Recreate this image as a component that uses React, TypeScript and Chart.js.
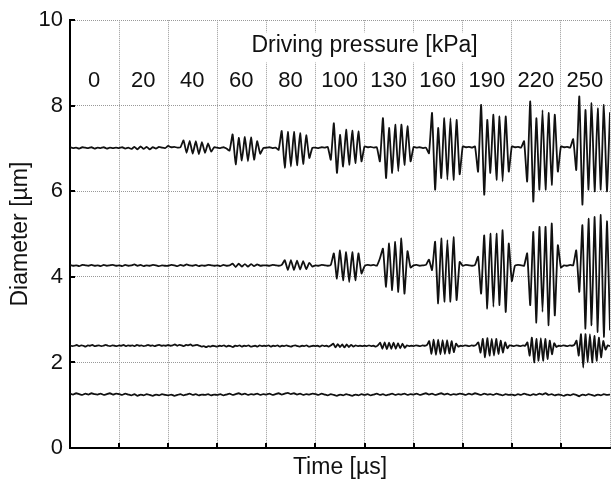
import { useEffect, useRef } from 'react';
import { Chart, registerables } from 'chart.js';

Chart.register(...registerables);

const FONT = '"Liberation Sans", Arial, Helvetica, sans-serif';

// ---- texts / labels ----
const xAxisTitle = 'Time [µs]';
const yAxisTitle = 'Diameter [µm]';
const pressureTitle = 'Driving pressure [kPa]';
const pressureLabels = ['0', '20', '40', '60', '80', '100', '130', '160', '190', '220', '250'];

// ---- axis ranges ----
const timeWindows = 11; // one window per driving pressure
const yMin = 0;
const yMax = 10;
const yStep = 2;

// ---- traces (diameter in µm), sampled uniformly in each pressure window ----
const samplesA = 16;
const traceA = [
  7.03, 7.01, 7.02, 7.00, 7.03, 7.02, 7.01, 7.03, 7.00, 7.02, 7.01, 7.03, 7.00, 7.02, 7.01, 7.02,
  7.01, 7.03, 7.00, 7.02, 6.99, 7.04, 6.98, 7.05, 6.99, 7.04, 6.98, 7.03, 7.00, 7.04, 7.02, 7.01,
  7.06, 7.03, 7.04, 7.02, 7.03, 7.19, 6.90, 7.18, 6.88, 7.17, 6.87, 7.15, 6.90, 7.12, 6.93, 7.03,
  7.02, 7.01, 7.03, 7.00, 6.95, 7.33, 6.63, 7.25, 6.72, 7.27, 6.70, 7.26, 6.74, 7.17, 6.88, 7.01,
  7.02, 7.03, 7.01, 7.02, 6.97, 7.41, 6.55, 7.39, 6.58, 7.39, 6.61, 7.36, 6.64, 7.31, 6.78, 7.02,
  7.02, 7.01, 7.03, 7.02, 7.04, 6.74, 7.59, 6.43, 7.32, 6.58, 7.44, 6.62, 7.42, 6.66, 7.40, 6.70,
  7.05, 7.03, 7.04, 7.02, 7.03, 6.70, 7.71, 6.31, 7.48, 6.43, 7.56, 6.47, 7.56, 6.62, 7.52, 6.70,
  7.04, 7.02, 7.03, 7.01, 7.02, 6.89, 7.83, 6.04, 7.48, 6.31, 7.71, 6.27, 7.71, 6.27, 7.67, 6.40,
  7.05, 7.03, 7.04, 7.02, 7.05, 6.46, 8.02, 5.92, 7.67, 6.43, 7.79, 6.27, 7.75, 6.23, 7.75, 6.46,
  7.05, 7.03, 7.04, 7.02, 7.17, 6.23, 8.10, 5.76, 7.71, 6.04, 7.90, 6.04, 7.83, 6.15, 7.79, 6.46,
  7.05, 7.03, 7.04, 7.02, 7.22, 6.50, 8.22, 5.69, 7.90, 6.04, 8.06, 6.00, 7.94, 6.04, 8.02, 6.00,
  7.85,
];

const samplesB = 16;
const traceB = [
  4.28, 4.26, 4.27, 4.25, 4.28, 4.27, 4.26, 4.28, 4.26, 4.27, 4.25, 4.28, 4.26, 4.27, 4.28, 4.26,
  4.27, 4.25, 4.28, 4.26, 4.27, 4.29, 4.26, 4.28, 4.25, 4.27, 4.26, 4.28, 4.27, 4.25, 4.27, 4.26,
  4.26, 4.28, 4.27, 4.25, 4.28, 4.26, 4.29, 4.27, 4.26, 4.28, 4.25, 4.27, 4.26, 4.28, 4.27, 4.26,
  4.27, 4.25, 4.28, 4.26, 4.27, 4.31, 4.23, 4.31, 4.24, 4.30, 4.24, 4.30, 4.25, 4.29, 4.26, 4.27,
  4.27, 4.26, 4.28, 4.27, 4.26, 4.28, 4.39, 4.16, 4.39, 4.16, 4.38, 4.17, 4.37, 4.18, 4.33, 4.24,
  4.27, 4.26, 4.28, 4.27, 4.26, 4.28, 4.55, 3.96, 4.62, 3.92, 4.58, 3.88, 4.58, 3.92, 4.55, 4.08,
  4.25, 4.28, 4.27, 4.28, 4.26, 4.43, 4.66, 3.77, 4.78, 3.69, 4.82, 3.65, 4.90, 3.61, 4.60, 4.22,
  4.27, 4.28, 4.26, 4.27, 4.28, 4.40, 4.16, 4.82, 3.38, 4.90, 3.42, 4.86, 3.42, 4.93, 3.46, 4.35,
  4.26, 4.28, 4.27, 4.26, 4.28, 4.47, 3.61, 4.97, 3.26, 5.01, 3.30, 5.01, 3.34, 5.09, 3.18, 4.78,
  3.90, 4.26, 4.28, 4.27, 4.26, 4.55, 3.34, 5.05, 2.93, 5.17, 3.18, 5.17, 2.87, 5.25, 3.10, 4.74,
  4.22, 4.27, 4.26, 4.28, 4.27, 4.62, 3.65, 5.21, 2.79, 5.36, 2.87, 5.40, 2.71, 5.45, 2.60, 5.30,
  2.75,
];

const samplesC = 22;
const traceC = [
  2.40, 2.38, 2.39, 2.41, 2.38, 2.40, 2.39, 2.37, 2.40, 2.39, 2.41, 2.38, 2.39, 2.40, 2.38, 2.39, 2.41, 2.39, 2.38, 2.40, 2.39, 2.38,
  2.40, 2.39, 2.41, 2.38, 2.40, 2.39, 2.40, 2.38, 2.41, 2.39, 2.40, 2.38, 2.39, 2.41, 2.39, 2.40, 2.38, 2.40, 2.41, 2.39, 2.40, 2.39,
  2.41, 2.39, 2.40, 2.42, 2.39, 2.41, 2.40, 2.38, 2.41, 2.40, 2.42, 2.39, 2.40, 2.41, 2.39, 2.37, 2.38, 2.36, 2.38, 2.37, 2.39, 2.38,
  2.37, 2.39, 2.38, 2.40, 2.37, 2.39, 2.38, 2.36, 2.39, 2.38, 2.40, 2.37, 2.39, 2.38, 2.40, 2.37, 2.38, 2.39, 2.37, 2.40, 2.38, 2.39,
  2.38, 2.40, 2.37, 2.39, 2.38, 2.40, 2.37, 2.39, 2.38, 2.40, 2.38, 2.37, 2.39, 2.40, 2.38, 2.37, 2.39, 2.38, 2.40, 2.37, 2.38, 2.39,
  2.38, 2.39, 2.37, 2.40, 2.38, 2.39, 2.37, 2.40, 2.44, 2.35, 2.43, 2.36, 2.42, 2.35, 2.42, 2.36, 2.41, 2.37, 2.40, 2.38, 2.39, 2.38,
  2.39, 2.38, 2.40, 2.38, 2.39, 2.37, 2.40, 2.46, 2.32, 2.47, 2.31, 2.46, 2.32, 2.46, 2.32, 2.45, 2.33, 2.44, 2.34, 2.40, 2.38, 2.39,
  2.38, 2.40, 2.39, 2.38, 2.40, 2.39, 2.41, 2.50, 2.20, 2.53, 2.18, 2.53, 2.19, 2.52, 2.20, 2.52, 2.21, 2.50, 2.24, 2.44, 2.37, 2.39,
  2.38, 2.40, 2.39, 2.38, 2.40, 2.39, 2.41, 2.47, 2.23, 2.55, 2.12, 2.57, 2.16, 2.55, 2.16, 2.55, 2.20, 2.51, 2.23, 2.47, 2.33, 2.40,
  2.39, 2.38, 2.40, 2.39, 2.38, 2.40, 2.39, 2.47, 2.16, 2.58, 2.00, 2.55, 2.04, 2.57, 2.04, 2.55, 2.08, 2.51, 2.19, 2.45, 2.36, 2.39,
  2.38, 2.40, 2.39, 2.38, 2.40, 2.39, 2.41, 2.51, 2.16, 2.66, 1.88, 2.66, 2.00, 2.66, 2.00, 2.62, 2.04, 2.58, 2.12, 2.50, 2.30, 2.40,
  2.38,
];

const samplesD = 16;
const traceD = [
  1.27, 1.25, 1.28, 1.26, 1.24, 1.27, 1.25, 1.28, 1.26, 1.25, 1.27, 1.24, 1.26, 1.28, 1.25, 1.27,
  1.26, 1.24, 1.27, 1.25, 1.23, 1.26, 1.22, 1.25, 1.23, 1.26, 1.24, 1.22, 1.25, 1.23, 1.26, 1.24,
  1.23, 1.25, 1.22, 1.24, 1.26, 1.23, 1.25, 1.27, 1.24, 1.26, 1.23, 1.25, 1.24, 1.26, 1.23, 1.25,
  1.24, 1.26, 1.23, 1.25, 1.27, 1.24, 1.26, 1.28, 1.25, 1.27, 1.24, 1.26, 1.25, 1.27, 1.24, 1.26,
  1.25, 1.27, 1.24, 1.26, 1.28, 1.25, 1.27, 1.29, 1.26, 1.28, 1.25, 1.27, 1.24, 1.26, 1.25, 1.27,
  1.26, 1.24, 1.27, 1.25, 1.23, 1.26, 1.24, 1.22, 1.25, 1.23, 1.26, 1.24, 1.22, 1.25, 1.23, 1.26,
  1.24, 1.26, 1.23, 1.25, 1.27, 1.24, 1.26, 1.23, 1.25, 1.27, 1.24, 1.26, 1.25, 1.27, 1.24, 1.26,
  1.25, 1.27, 1.24, 1.26, 1.28, 1.25, 1.27, 1.24, 1.26, 1.28, 1.25, 1.27, 1.24, 1.26, 1.25, 1.27,
  1.26, 1.24, 1.27, 1.25, 1.28, 1.26, 1.24, 1.27, 1.25, 1.26, 1.24, 1.27, 1.25, 1.23, 1.26, 1.24,
  1.25, 1.23, 1.26, 1.24, 1.27, 1.25, 1.23, 1.26, 1.24, 1.27, 1.25, 1.28, 1.24, 1.26, 1.23, 1.25,
  1.24, 1.22, 1.25, 1.23, 1.26, 1.24, 1.21, 1.25, 1.23, 1.26, 1.24, 1.22, 1.25, 1.23, 1.26, 1.24,
  1.25,
];

const toPoints = (values: number[], perWindow: number) =>
  values.map((v, i) => ({ x: i / perWindow, y: v }));

const overlayPlugin = {
  id: 'overlay',
  beforeDatasetsDraw(chart: any) {
    const { ctx, scales } = chart;
    const x = scales.x;
    const y = scales.y;
    ctx.save();
    // title of the pressure row, on a white box
    ctx.font = `23px ${FONT}`;
    ctx.textAlign = 'center';
    ctx.textBaseline = 'middle';
    const tx = x.getPixelForValue(timeWindows / 2 + 0.5);
    const ty = y.getPixelForValue(9.41);
    const tw = ctx.measureText(pressureTitle).width;
    ctx.fillStyle = '#ffffff';
    ctx.fillRect(tx - tw / 2 - 4, ty - 13, tw + 8, 30);
    ctx.fillStyle = '#111111';
    ctx.fillText(pressureTitle, tx, ty);
    // pressure values, one per window
    ctx.font = `22px ${FONT}`;
    pressureLabels.forEach((label, i) => {
      ctx.fillText(label, x.getPixelForValue(i + 0.49), y.getPixelForValue(8.59));
    });
    ctx.restore();
  },
  afterDatasetsDraw(chart: any) {
    const { ctx, scales, chartArea } = chart;
    const x = scales.x;
    const y = scales.y;
    ctx.save();
    ctx.strokeStyle = '#000000';
    ctx.lineWidth = 2;
    ctx.beginPath();
    x.ticks.forEach((t: any) => {
      const px = Math.round(x.getPixelForValue(t.value));
      if (px <= chartArea.left + 1 || px >= chartArea.right - 1) return;
      ctx.moveTo(px, chartArea.bottom);
      ctx.lineTo(px, chartArea.bottom - 5);
    });
    y.ticks.forEach((t: any) => {
      const py = Math.round(y.getPixelForValue(t.value));
      ctx.moveTo(chartArea.left, py);
      ctx.lineTo(chartArea.left + 5, py);
    });
    ctx.stroke();
    ctx.restore();
  },
};

export default function App() {
  const canvasRef = useRef<HTMLCanvasElement | null>(null);

  useEffect(() => {
    document.body.style.margin = '0';
    const canvas = canvasRef.current;
    if (!canvas) return;
    const lineStyle = {
      borderColor: '#111111',
      borderWidth: 1.8,
      pointRadius: 0,
      tension: 0.15,
      fill: false,
    };
    const chart = new Chart(canvas, {
      type: 'line',
      data: {
        datasets: [
          { label: 'A', data: toPoints(traceA, samplesA), ...lineStyle },
          { label: 'B', data: toPoints(traceB, samplesB), ...lineStyle },
          { label: 'C', data: toPoints(traceC, samplesC), ...lineStyle },
          { label: 'D', data: toPoints(traceD, samplesD), ...lineStyle },
        ],
      },
      options: {
        responsive: false,
        animation: false,
        events: [],
        layout: { padding: { top: 20, right: 1, left: 0, bottom: 0 } },
        plugins: {
          legend: { display: false },
          tooltip: { enabled: false },
        },
        scales: {
          x: {
            type: 'linear',
            min: 0,
            max: timeWindows,
            ticks: { stepSize: 1, display: false },
            grid: { color: '#999999', lineWidth: 1, drawTicks: false },
            border: { display: true, color: '#000000', width: 2, dash: [1, 1] },
            title: {
              display: true,
              text: xAxisTitle,
              color: '#111111',
              font: { family: FONT, size: 23 },
              padding: { top: 0, bottom: 0 },
            },
            afterFit(scale: any) {
              scale.height = 33;
            },
          },
          y: {
            type: 'linear',
            min: yMin,
            max: yMax,
            ticks: {
              stepSize: yStep,
              color: '#111111',
              padding: 7,
              font: { family: FONT, size: 22 },
            },
            grid: { color: '#999999', lineWidth: 1, drawTicks: false },
            border: { display: true, color: '#000000', width: 2, dash: [1, 1] },
            title: {
              display: true,
              text: yAxisTitle,
              color: '#111111',
              font: { family: FONT, size: 23 },
              padding: { top: 7, bottom: 0 },
            },
            afterFit(scale: any) {
              scale.width = 70;
            },
          },
        },
      },
      plugins: [overlayPlugin],
    });
    return () => chart.destroy();
  }, []);

  return (
    <div style={{ position: 'absolute', left: 0, top: 0, width: 611, height: 481, background: '#fff' }}>
      <canvas ref={canvasRef} width={611} height={481} style={{ display: 'block' }} />
    </div>
  );
}
